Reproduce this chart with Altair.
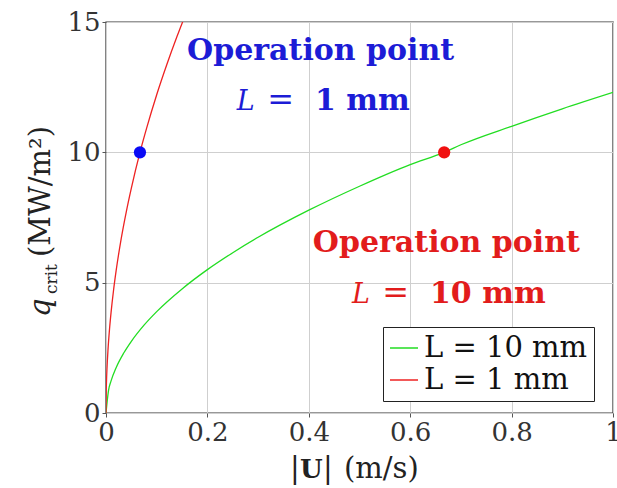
import altair as alt
import pandas as pd

# Critical heat flux q_crit (MW/m^2) against velocity magnitude |U| (m/s)
u_10mm = [0.0, 0.005, 0.01, 0.02, 0.035, 0.05, 0.075, 0.1, 0.15, 0.2, 0.25,
          0.3, 0.4, 0.5, 0.6, 0.667, 0.7, 0.8, 0.9, 1.0]
q_10mm = [0.0, 0.87, 1.23, 1.74, 2.30, 2.75, 3.37, 3.89, 4.76, 5.50, 6.15,
          6.74, 7.78, 8.70, 9.53, 10.0, 10.29, 11.0, 11.67, 12.3]

u_1mm = [0.0, 0.0005, 0.001, 0.002, 0.004, 0.007, 0.01, 0.015, 0.02, 0.03,
         0.04, 0.05, 0.067, 0.08, 0.1, 0.12, 0.14, 0.16]
q_1mm = [0.0, 0.86, 1.22, 1.73, 2.44, 3.23, 3.86, 4.73, 5.46, 6.69,
         7.72, 8.63, 10.0, 10.92, 12.21, 13.37, 14.44, 15.44]

series = ["L = 10 mm", "L = 1 mm"]
series_colors = ["#22dd22", "#ee2222"]

# Operation points
op_case = ["L = 1 mm", "L = 10 mm"]
op_u = [0.067, 0.667]
op_q = [10.0, 10.0]

x_ticks = [0, 0.2, 0.4, 0.6, 0.8, 1]
y_ticks = [0, 5, 10, 15]

curves = pd.concat([
    pd.DataFrame({"u": u_10mm, "q": q_10mm, "case": series[0]}),
    pd.DataFrame({"u": u_1mm, "q": q_1mm, "case": series[1]}),
])
ops = pd.DataFrame({"u": op_u, "q": op_q, "case": op_case})

SERIF = "DejaVu Serif"
BLUE = "#1c1cd6"
RED = "#e21c1c"

x_scale = alt.Scale(domain=[0, 1], nice=False)
y_scale = alt.Scale(domain=[0, 15], nice=False)

lines = alt.Chart(curves).mark_line(strokeWidth=1.3, clip=True, interpolate="monotone").encode(
    x=alt.X("u:Q", scale=x_scale,
            axis=alt.Axis(values=x_ticks, format="~g", title=None, labelFlush=False,
                          labelOverlap=False)),
    y=alt.Y("q:Q", scale=y_scale,
            axis=alt.Axis(values=y_ticks, format="~g", title=None, labelOverlap=False)),
    color=alt.Color("case:N", scale=alt.Scale(domain=series, range=series_colors),
                    sort=series,
                    legend=alt.Legend(title=None, orient="none", legendX=277, legendY=305,
                                      symbolType="stroke", symbolSize=784,
                                      symbolStrokeWidth=1.5, labelFont=SERIF,
                                      labelFontSize=29, labelColor="#111", labelLimit=400,
                                      padding=6, rowPadding=2, labelOffset=5,
                                      strokeColor="#222", fillColor="white",
                                      cornerRadius=0)),
)

dot_blue = alt.Chart(ops).transform_filter(alt.datum.case == "L = 1 mm").mark_circle(
    size=150, opacity=1, color="#0a0af5").encode(x="u:Q", y="q:Q")
dot_red = alt.Chart(ops).transform_filter(alt.datum.case == "L = 10 mm").mark_circle(
    size=150, opacity=1, color="#f01010").encode(x="u:Q", y="q:Q")


def note(text, u, q, color, size=30, weight="bold", style="normal"):
    return alt.Chart(pd.DataFrame({"t": [text]})).mark_text(
        align="left", baseline="alphabetic", font=SERIF, fontSize=size,
        fontWeight=weight, fontStyle=style, color=color,
    ).encode(x=alt.datum(u, scale=x_scale), y=alt.datum(q, scale=y_scale), text="t:N")


notes = [
    note("Operation point", 0.160, 13.54, BLUE),
    note("L", 0.258, 11.62, BLUE, size=27, weight="normal", style="italic"),
    note("=", 0.318, 11.62, BLUE, size=32, weight="normal"),
    note("1 mm", 0.412, 11.62, BLUE),
    note("Operation point", 0.408, 6.18, RED),
    note("L", 0.485, 4.22, RED, size=27, weight="normal", style="italic"),
    note("=", 0.545, 4.22, RED, size=32, weight="normal"),
    note("10 mm", 0.639, 4.22, RED),
]


def label(text, px, py, size=29, weight="normal", style="normal", angle=0):
    return alt.Chart(pd.DataFrame({"t": [text]})).mark_text(
        align="left", baseline="alphabetic", font=SERIF, fontSize=size,
        fontWeight=weight, fontStyle=style, color="#222", angle=angle,
    ).encode(x=alt.value(px), y=alt.value(py), text="t:N")


# Axis titles: |U| (m/s) and q_crit (MW/m^2)
titles = [
    label("|", 184, 456),
    label("U", 194, 456, size=26, weight="bold"),
    label("|", 217, 456),
    label("(m/s)", 238, 456),
    label("q", -56, 295, style="italic", angle=270),
    label("crit", -49, 272, size=17, angle=270),
    label("(MW/m²)", -56, 235, angle=270),
]

chart = alt.layer(lines, dot_blue, dot_red, *notes, *titles).properties(
    width=507, height=391,
    padding={"left": 106, "top": 22, "right": 4, "bottom": 75},
    autosize=alt.AutoSizeParams(type="none"),
).configure_view(
    stroke="#333", strokeWidth=1.4,
).configure_axis(
    domain=False, grid=True, gridColor="#cfcfcf", gridWidth=1,
    ticks=True, tickSize=4, tickColor="#555",
    labelFont=SERIF, labelFontSize=26, labelColor="#333", labelPadding=2,
)

chart.save("out.html", embed_options={"renderer": "svg", "actions": False})
